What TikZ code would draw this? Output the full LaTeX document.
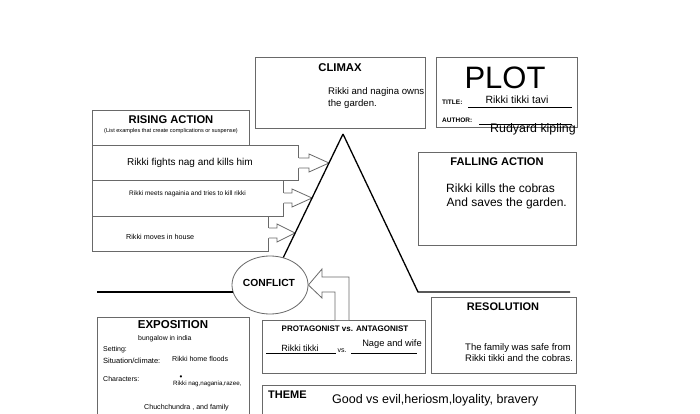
\documentclass[tikz,border=0pt]{standalone}
\usepackage{fontspec}
\setmainfont{Liberation Sans}
\usetikzlibrary{shapes.geometric,calc}
\definecolor{boxgray}{RGB}{105,105,105}
\newcommand\fsz[1]{\fontsize{#1}{#1}\selectfont}
\begin{document}
\begin{tikzpicture}[x=1pt,y=-1pt,
  box/.style={draw=boxgray,line width=0.8pt,inner sep=0pt,anchor=north west},
  arrowline/.style={draw=boxgray,line width=0.8pt,line join=miter},
  tri/.style={draw=black,line width=1.3pt},
  baseline/.style={draw=black,line width=2pt},
  uline/.style={draw=black,line width=0.6pt},
  tc/.style={inner sep=0pt,anchor=base},
  tl/.style={inner sep=0pt,anchor=base west},
  head/.style={inner sep=0pt,anchor=base,font=\bfseries}]
\useasboundingbox (0,0) rectangle (700,414);
\clip (0,0) rectangle (700,414);
\fill[white] (0,0) rectangle (700,414);

% boxes
\node[box,minimum width=170pt,minimum height=71pt] (climax) at (255,57) {};
\node[box,minimum width=141pt,minimum height=70pt] (plot) at (436,57) {};
\node[box,minimum width=157pt,minimum height=35pt] (rise) at (92,110) {};
\node[box,minimum width=206pt,minimum height=35pt] (row1) at (92,145) {};
\node[box,minimum width=191pt,minimum height=36pt] (row2) at (92,180) {};
\node[box,minimum width=176pt,minimum height=35pt] (row3) at (92,216) {};
\node[box,minimum width=158pt,minimum height=93pt] (fall) at (418,152) {};
\node[box,minimum width=152pt,minimum height=120pt] (expo) at (97,317) {};
\node[box,minimum width=163pt,minimum height=53pt] (prot) at (262,320) {};
\node[box,minimum width=313pt,minimum height=50pt] (theme) at (262,385) {};
\node[box,minimum width=145pt,minimum height=76pt] (resol) at (431,297) {};
\node[ellipse,draw=boxgray,line width=0.8pt,fill=white,minimum width=76pt,minimum height=58pt,inner sep=0pt] (conflict) at (270,285) {};

% triangle coordinates
\coordinate (apex) at (343,134);
\coordinate (rfoot) at (418,292);
\coordinate (rend) at (570,292);
\coordinate (lstart) at (97,292);
\coordinate (tip1) at (329,163);
\coordinate (tip2) at (312,198);
\coordinate (tip3) at (295,233);

% rising action arrows
\fill[white] (297,158) -- (309,158) -- (309,154) -- (tip1) -- (309,172) -- (309,168) -- (297,168) -- cycle;
\draw[arrowline] (row1.east |- 0,158) -- (309,158) -- (309,154) -- (tip1) -- (309,172) -- (309,168) -- (row1.east |- 0,168);
\fill[white] (282,193) -- (292,193) -- (292,189) -- (tip2) -- (292,207) -- (292,203) -- (282,203) -- cycle;
\draw[arrowline] (row2.east |- 0,193) -- (292,193) -- (292,189) -- (tip2) -- (292,207) -- (292,203) -- (row2.east |- 0,203);
\fill[white] (267,228) -- (277,228) -- (277,224) -- (tip3) -- (277,242) -- (277,238) -- (267,238) -- cycle;
\draw[arrowline] (row3.east |- 0,228) -- (277,228) -- (277,224) -- (tip3) -- (277,242) -- (277,238) -- (row3.east |- 0,238);

% conflict arrow
\draw[arrowline,fill=white] (335,320) -- (335,292) -- (322,292) -- (322,298) -- (conflict.east) -- (322,269) -- (322,277) -- (349,277) -- (349,320);

% triangle and baseline
\draw[tri] (apex) -- (conflict);
\draw[tri] (apex) -- (rfoot) -- (rend);
\draw[baseline,shorten >=-1.5pt] (lstart) -- (lstart -| conflict.west);

% CLIMAX
\node[head,font=\bfseries\fsz{11.3}] (climaxT) at (340,72) {CLIMAX};
\node[tl,font=\fsz{9.6}] (climax1) at (328,95) {Rikki and nagina owns};
\node[tl,font=\fsz{9.6}] (climax2) at (328,106.5) {the garden.};

% PLOT
\node[tc,font=\fsz{31}] (plotT) at (505,88.3) {PLOT};
\node[tl,font=\bfseries\fsz{6.5}] (titleL) at (442,104.3) {TITLE:};
\draw[uline] (468,107) -- (572,107);
\node[tc,font=\fsz{10.5}] (titleV) at (517,103.3) {Rikki tikki tavi};
\node[tl,font=\bfseries\fsz{6.5}] (authL) at (442,122.7) {AUTHOR:};
\draw[uline] (479,124) -- (572,124);
\node[tl,font=\fsz{12.4}] (authV) at (490,132) {Rudyard kipling};

% RISING ACTION
\node[head,font=\bfseries\fsz{11.2}] (riseT) at (171,124) {RISING ACTION};
\node[tc,font=\fsz{5.6}] (riseS) at (171,132.3) {(List examples that create complications or suspense)};
\node[tc,font=\fsz{10}] (r1) at (190,165) {Rikki fights nag and kills him};
\node[tl,font=\fsz{6.5}] (r2) at (129,195) {Rikki meets nagainia and tries to kill rikki};
\node[tl,font=\fsz{7.2}] (r3) at (126,239) {Rikki moves in house};

% FALLING ACTION
\node[head,font=\bfseries\fsz{11.1}] (fallT) at (497,165.7) {FALLING ACTION};
\node[tl,font=\fsz{12}] (fall1) at (446,192.7) {Rikki kills the cobras};
\node[tl,font=\fsz{12}] (fall2) at (446.5,206.2) {And saves the garden.};

% CONFLICT
\node[head,font=\bfseries\fsz{10.3}] (conflictT) at (269,286.7) {CONFLICT};

% EXPOSITION
\node[head,font=\bfseries\fsz{11.5}] (expoT) at (173,328.3) {EXPOSITION};
\node[tl,font=\fsz{6.9}] (bung) at (138,340) {bungalow in india};
\node[tl,font=\fsz{7}] (setL) at (103,351) {Setting:};
\node[tl,font=\fsz{7.5}] (sitL) at (103,363.3) {Situation/climate:};
\node[tl,font=\fsz{7.1}] (sitV) at (172,361.7) {Rikki home floods};
\node[tl,font=\fsz{7}] (charL) at (103,381.7) {Characters:};
\node[tc,font=\fsz{8}] (bul) at (181,379) {•};
\node[tl,font=\fsz{6.2}] (charV) at (173,385.7) {Rikki nag,nagania,razee,};
\node[tl,font=\fsz{7.1}] (charW) at (144,409.3) {Chuchchundra , and family};

% PROTAGONIST
\node[head,font=\bfseries\fsz{8}] (protT) at (345,331.7) {PROTAGONIST vs. ANTAGONIST};
\draw[uline] (266,353) -- (336,353);
\node[tc,font=\fsz{9}] (protA) at (300,351.7) {Rikki tikki};
\node[tl,font=\fsz{7}] (vs) at (337.5,352.7) {vs.};
\draw[uline] (351,353) -- (417,353);
\node[tc,font=\fsz{9.3}] (protB) at (392,346.7) {Nage and wife};

% THEME
\node[tl,font=\bfseries\fsz{11}] (themeT) at (268,398.3) {THEME};
\node[tl,font=\fsz{12.5}] (themeV) at (332,403.3) {Good vs evil,heriosm,loyality, bravery};

% RESOLUTION
\node[head,font=\bfseries\fsz{11}] (resolT) at (503,310.7) {RESOLUTION};
\node[tl,font=\fsz{9.5}] (res1) at (465,350) {The family was safe from};
\node[tl,font=\fsz{9.5}] (res2) at (465,361.7) {Rikki tikki and the cobras.};
\end{tikzpicture}
\end{document}
